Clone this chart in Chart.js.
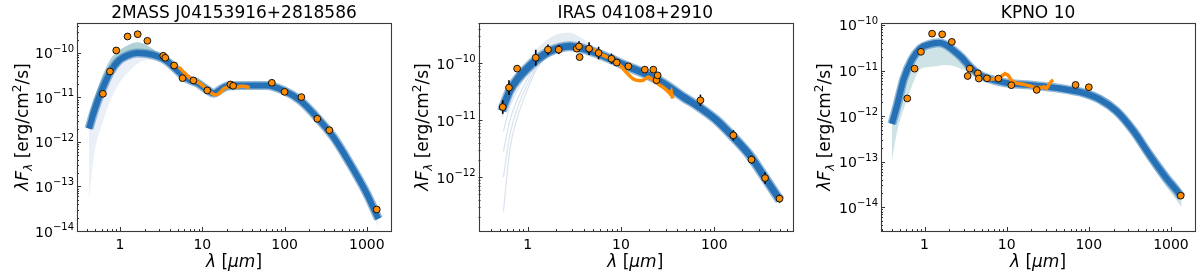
<!DOCTYPE html>
<html>
<head>
<meta charset="utf-8">
<script src="https://cdn.jsdelivr.net/npm/chart.js@4.4.1/dist/chart.umd.min.js"></script>
<style>
  html, body { margin:0; padding:0; background:#fff; }
  body { width:1200px; height:275px; position:relative; overflow:hidden; }
  canvas { position:absolute; top:0; }
</style>
</head>
<body>
<canvas id="c1" width="400" height="275" style="left:0px"></canvas>
<canvas id="c2" width="400" height="275" style="left:400px"></canvas>
<canvas id="c3" width="400" height="275" style="left:800px"></canvas>
<script>
// ---------------- Panel 1 : 2MASS J04153916+2818586 ----------------
const p1Title = "2MASS J04153916+2818586";
const p1PhotWave = [0.62, 0.755, 0.90, 1.235, 1.64, 2.15, 3.35, 3.55, 4.55, 5.75, 7.8, 11.5, 22.0, 23.7, 70, 100, 160, 250, 350, 1320];
const p1PhotFlux = [1.21e-11, 3.84e-11, 1.14e-10, 2.35e-10, 2.64e-10, 1.88e-10, 8.65e-11, 7.8e-11, 5.24e-11, 2.72e-11, 2.41e-11, 1.44e-11, 1.96e-11, 1.83e-11, 2.14e-11, 1.34e-11, 1.02e-11, 3.32e-12, 1.84e-12, 3.04e-14];
const p1PhotErr  = [0.06, 0.03, 0.02, 0.02, 0.02, 0.02, 0.02, 0.02, 0.02, 0.02, 0.03, 0.03, 0.03, 0.03, 0.04, 0.04, 0.04, 0.04, 0.04, 0.04];
const p1SpecWave = [5.2, 5.6, 6.0, 6.56, 7.0, 7.5, 7.9, 8.5, 9.5, 10.5, 11.5, 12.5, 13.8, 14.8, 15.9, 17.0, 18.2, 20.0, 22.0, 24.0, 26.5, 29.0, 31.9, 34.5, 37.6];
const p1SpecFlux = [4.80e-11, 4.17e-11, 3.63e-11, 3.12e-11, 2.75e-11, 2.51e-11, 2.49e-11, 2.29e-11, 2.03e-11, 1.74e-11, 1.49e-11, 1.32e-11, 1.17e-11, 1.15e-11, 1.21e-11, 1.38e-11, 1.57e-11, 1.70e-11, 1.79e-11, 1.74e-11, 1.71e-11, 1.78e-11, 1.79e-11, 1.74e-11, 1.65e-11];
const p1ModelWave = [0.42, 0.484, 0.612, 0.771, 0.97, 1.23, 1.62, 2.15, 2.84, 3.74, 4.96, 6.56, 8.67, 11.4, 13.8, 16.6, 19.9, 26.5, 38.4, 61, 97, 155, 246, 393, 625, 1000, 1380];
const p1ModelBest = [2.0e-12, 4.9e-12, 1.57e-11, 3.89e-11, 6.78e-11, 8.79e-11, 1.0e-10, 9.6e-11, 8.43e-11, 6.5e-11, 4.05e-11, 2.63e-11, 2.12e-11, 1.5e-11, 1.24e-11, 1.51e-11, 1.79e-11, 1.86e-11, 1.86e-11, 1.86e-11, 1.44e-11, 8.57e-12, 3.61e-12, 1.28e-12, 3.24e-13, 6.85e-14, 1.88e-14];
const p1ModelHi = [3.98e-12, 9.33e-12, 3.12e-11, 7.41e-11, 1.14e-10, 1.48e-10, 1.75e-10, 1.48e-10, 1.05e-10, 7.41e-11, 4.57e-11, 2.95e-11, 2.34e-11, 1.66e-11, 1.38e-11, 1.70e-11, 2.0e-11, 2.09e-11, 2.09e-11, 2.14e-11, 1.70e-11, 1.05e-11, 4.47e-12, 1.58e-12, 4.17e-13, 9.12e-14, 2.63e-14];
const p1ModelLo = [5.0e-14, 5.0e-13, 2.63e-12, 8.91e-12, 2.04e-11, 3.55e-11, 5.75e-11, 7.08e-11, 7.08e-11, 5.75e-11, 3.63e-11, 2.34e-11, 1.91e-11, 1.35e-11, 1.12e-11, 1.35e-11, 1.58e-11, 1.62e-11, 1.62e-11, 1.58e-11, 1.20e-11, 6.92e-12, 2.88e-12, 1.0e-12, 2.40e-13, 4.79e-14, 1.20e-14];
const p1XTicks = [1, 10, 100, 1000];
const p1XTickLabels = ["1", "10", "100", "1000"];
const p1YTicks = [1e-14, 1e-13, 1e-12, 1e-11, 1e-10];
const p1YTickLabels = ["10^\u221214", "10^\u221213", "10^\u221212", "10^\u221211", "10^\u221210"];

// ---------------- Panel 2 : IRAS 04108+2910 ----------------
const p2Title = "IRAS 04108+2910";
const p2PhotWave = [0.54, 0.63, 0.77, 1.22, 1.65, 2.15, 3.35, 3.55, 3.6, 4.55, 5.75, 7.9, 9.0, 12.0, 18.0, 22.2, 24.0, 24.7, 71, 160, 250, 350, 500];
const p2PhotFlux = [1.69e-11, 3.7e-11, 7.98e-11, 1.24e-10, 1.72e-10, 1.72e-10, 1.79e-10, 1.96e-10, 1.27e-10, 1.79e-10, 1.5e-10, 1.19e-10, 1.02e-10, 8.75e-11, 7.66e-11, 7.66e-11, 5.0e-11, 6.08e-11, 2.22e-11, 5.39e-12, 2.02e-12, 9.6e-13, 4.18e-13];
const p2PhotErr  = [0.12, 0.13, 0.03, 0.14, 0.09, 0.08, 0.05, 0.09, 0.03, 0.11, 0.11, 0.09, 0.03, 0.04, 0.03, 0.03, 0.03, 0.03, 0.10, 0.09, 0.07, 0.10, 0.07];
const p2SpecWave = [5.05, 5.6, 6.46, 7.2, 8.27, 9.2, 10.2, 11.2, 12.5, 13.5, 14.7, 16.0, 17.3, 18.5, 19.6, 21.0, 22.2, 24.0, 26.2, 28.5, 30.9, 32.0, 33.5, 34.5, 35.8];
const p2SpecFlux = [1.72e-10, 1.58e-10, 1.36e-10, 1.26e-10, 1.11e-10, 1.0e-10, 8.51e-11, 7.08e-11, 5.85e-11, 5.25e-11, 4.97e-11, 4.90e-11, 4.97e-11, 5.37e-11, 5.68e-11, 5.37e-11, 4.97e-11, 4.57e-11, 4.06e-11, 3.72e-11, 3.32e-11, 3.16e-11, 2.90e-11, 3.16e-11, 2.37e-11];
const p2ModelWave = [0.53, 0.548, 0.646, 0.793, 0.975, 1.25, 1.66, 2.22, 2.84, 3.63, 5.05, 7.62, 11.5, 17.3, 26.2, 46.5, 70.2, 106, 160, 240, 364, 506];
const p2ModelBest = [1.45e-11, 1.69e-11, 3.32e-11, 5.50e-11, 7.94e-11, 1.15e-10, 1.56e-10, 1.87e-10, 1.98e-10, 1.85e-10, 1.56e-10, 1.19e-10, 8.83e-11, 6.73e-11, 4.81e-11, 2.54e-11, 1.65e-11, 9.89e-12, 5.04e-12, 2.40e-12, 8.75e-13, 3.90e-13];
const p2ModelHi = [2.0e-11, 2.29e-11, 4.37e-11, 7.41e-11, 1.10e-10, 1.74e-10, 2.63e-10, 3.31e-10, 3.39e-10, 2.82e-10, 2.0e-10, 1.38e-10, 1.0e-10, 7.59e-11, 5.37e-11, 2.88e-11, 1.91e-11, 1.15e-11, 5.89e-12, 2.82e-12, 1.05e-12, 4.68e-13];
const p2ModelLo = [1.05e-11, 1.23e-11, 2.51e-11, 4.07e-11, 5.75e-11, 8.71e-11, 1.26e-10, 1.58e-10, 1.70e-10, 1.58e-10, 1.38e-10, 1.05e-10, 7.76e-11, 5.89e-11, 4.27e-11, 2.24e-11, 1.45e-11, 8.51e-12, 4.27e-12, 2.04e-12, 7.24e-13, 3.24e-13];
const p2FaintWave = [0.55, 0.646, 0.793, 0.975, 1.25, 1.66];
const p2Faint1 = [6.31e-12, 1.78e-11, 3.55e-11, 6.31e-11, 1.05e-10, 1.48e-10];
const p2Faint2 = [2.82e-12, 1.0e-11, 2.51e-11, 5.01e-11, 9.55e-11, 1.45e-10];
const p2Faint3 = [1.0e-12, 5.62e-12, 1.78e-11, 3.98e-11, 8.71e-11, 1.41e-10];
const p2Faint4 = [2.51e-13, 3.16e-12, 1.26e-11, 3.16e-11, 7.94e-11, 1.38e-10];
const p2XTicks = [1, 10, 100];
const p2XTickLabels = ["1", "10", "100"];
const p2YTicks = [1e-12, 1e-11, 1e-10];
const p2YTickLabels = ["10^\u221212", "10^\u221211", "10^\u221210"];

// ---------------- Panel 3 : KPNO 10 ----------------
const p3Title = "KPNO 10";
const p3PhotWave = [0.616, 0.756, 0.904, 1.235, 1.64, 2.15, 3.35, 3.55, 4.46, 4.58, 5.75, 7.94, 11.4, 23.2, 69, 100, 1315];
const p3PhotFlux = [2.44e-12, 1.1e-11, 2.58e-11, 6.46e-11, 6.24e-11, 4.26e-11, 7.59e-12, 1.1e-11, 8.69e-12, 6.67e-12, 6.76e-12, 6.67e-12, 4.77e-12, 3.76e-12, 4.83e-12, 4.3e-12, 1.79e-14];
const p3PhotErr  = [0.06, 0.03, 0.02, 0.02, 0.02, 0.02, 0.02, 0.02, 0.02, 0.02, 0.02, 0.03, 0.03, 0.04, 0.04, 0.05, 0.04];
const p3SpecWave = [5.21, 6.28, 7.58, 8.72, 9.55, 10.45, 11.5, 13.3, 15.9, 17.5, 19.3, 21.0, 23.2, 26.6, 28.5, 30.6, 32.9, 35.4, 36.9];
const p3SpecFlux = [7.36e-12, 6.43e-12, 6.67e-12, 7.59e-12, 8.55e-12, 7.85e-12, 5.90e-12, 5.26e-12, 5.01e-12, 4.79e-12, 4.59e-12, 4.37e-12, 4.24e-12, 4.24e-12, 4.37e-12, 4.04e-12, 5.01e-12, 5.90e-12, 6.21e-12];
const p3ModelWave = [0.40, 0.462, 0.556, 0.703, 0.886, 1.12, 1.48, 1.78, 2.25, 2.85, 3.59, 4.75, 6.89, 11.0, 19.3, 36.9, 55, 85.6, 136, 217, 347, 554, 885, 1205, 1350];
const p3ModelBest = [6.76e-13, 1.69e-12, 6.43e-12, 1.75e-11, 3.05e-11, 3.72e-11, 4.06e-11, 3.72e-11, 2.78e-11, 1.91e-11, 1.20e-11, 7.94e-12, 6.17e-12, 5.21e-12, 4.81e-12, 4.24e-12, 3.80e-12, 3.24e-12, 2.34e-12, 1.29e-12, 4.81e-13, 1.37e-13, 4.27e-14, 2.19e-14, 1.66e-14];
const p3ModelHi = [1.41e-12, 3.55e-12, 1.0e-11, 2.40e-11, 3.63e-11, 4.37e-11, 4.68e-11, 4.37e-11, 3.24e-11, 2.19e-11, 1.38e-11, 8.91e-12, 6.92e-12, 5.89e-12, 5.50e-12, 4.90e-12, 4.57e-12, 3.98e-12, 3.02e-12, 1.70e-12, 6.61e-13, 2.0e-13, 6.31e-14, 3.16e-14, 2.29e-14];
const p3ModelLo = [1.0e-13, 4.47e-13, 1.41e-12, 4.57e-12, 1.07e-11, 1.20e-11, 1.26e-11, 1.32e-11, 1.26e-11, 1.07e-11, 9.12e-12, 7.08e-12, 5.50e-12, 4.57e-12, 4.17e-12, 3.63e-12, 3.16e-12, 2.63e-12, 1.82e-12, 9.55e-13, 3.47e-13, 9.55e-14, 2.75e-14, 1.32e-14, 1.0e-14];
const p3XTicks = [1, 10, 100, 1000];
const p3XTickLabels = ["1", "10", "100", "1000"];
const p3YTicks = [1e-14, 1e-13, 1e-12, 1e-11, 1e-10];
const p3YTickLabels = ["10^\u221214", "10^\u221213", "10^\u221212", "10^\u221211", "10^\u221210"];

// ---------------- drawing ----------------
const FAM = "'DejaVu Sans', sans-serif";
Chart.defaults.font.family = FAM;
const ORANGE = '#ff8c00';
const BLUE = '#2671b5';

function zip(xs, ys) { return xs.map((x, i) => ({ x: x, y: ys[i] })); }

function fontOf(s) { return (s.it ? 'italic ' : '') + s.size + 'px ' + FAM; }
function measureRich(ctx, segs) {
  let w = 0;
  segs.forEach(s => { ctx.font = fontOf(s); s.w = ctx.measureText(s.t).width; w += s.w; });
  return w;
}
function drawRich(ctx, segs, x, y, align) {
  const w = measureRich(ctx, segs);
  let cx = align === 'right' ? x - w : x - w / 2;
  ctx.textAlign = 'left'; ctx.textBaseline = 'alphabetic';
  segs.forEach(s => { ctx.font = fontOf(s); ctx.fillText(s.t, cx, y + (s.dy || 0)); cx += s.w; });
}
// "10^-12" -> base + raised exponent
function powSegs(label) {
  const parts = label.split('^');
  return [{ t: parts[0], size: 14 }, { t: parts[1], size: 10, dy: -6.5 }];
}
const xLabelSegs = [
  { t: '\u03BB', size: 17, it: true }, { t: ' [', size: 17 }, { t: '\u03BCm', size: 17, it: true }, { t: ']', size: 17 }
];
const yLabelSegs = [
  { t: '\u03BBF', size: 17, it: true }, { t: '\u03BB', size: 12, it: true, dy: 4 },
  { t: ' [erg/cm', size: 17 }, { t: '2', size: 12, dy: -7 }, { t: '/s]', size: 17 }
];

const errorBars = {
  id: 'errorBars',
  beforeDatasetDraw(chart, args) {
    const ds = chart.data.datasets[args.index];
    if (!ds.errDex) return;
    const ctx = chart.ctx, xs = chart.scales.x, ys = chart.scales.y;
    ctx.save();
    ctx.strokeStyle = '#000'; ctx.lineWidth = 1.6;
    ds.data.forEach((p, i) => {
      const e = ds.errDex[i];
      if (!e) return;
      const f = Math.pow(10, e);
      const px = xs.getPixelForValue(p.x);
      ctx.beginPath();
      ctx.moveTo(px, ys.getPixelForValue(p.y * f));
      ctx.lineTo(px, ys.getPixelForValue(p.y / f));
      ctx.stroke();
    });
    ctx.restore();
  }
};

const decorations = {
  id: 'decorations',
  afterDraw(chart) {
    const o = chart.options.plugins.decorations;
    const ctx = chart.ctx, a = chart.chartArea, xs = chart.scales.x, ys = chart.scales.y;
    ctx.save();
    // inward ticks
    ctx.strokeStyle = '#333'; ctx.lineWidth = 1;
    ctx.beginPath();
    for (let e = Math.floor(Math.log10(xs.min)); e <= Math.ceil(Math.log10(xs.max)); e++) {
      for (let m = 1; m < 10; m++) {
        const v = m * Math.pow(10, e);
        if (v < xs.min || v > xs.max) continue;
        const px = Math.round(xs.getPixelForValue(v)) + 0.5;
        const len = m === 1 ? 4 : 2;
        ctx.moveTo(px, a.bottom); ctx.lineTo(px, a.bottom - len);
      }
    }
    for (let e = Math.floor(Math.log10(ys.min)); e <= Math.ceil(Math.log10(ys.max)); e++) {
      for (let m = 1; m < 10; m++) {
        const v = m * Math.pow(10, e);
        if (v < ys.min || v > ys.max) continue;
        const py = Math.round(ys.getPixelForValue(v)) + 0.5;
        const len = m === 1 ? 4 : 2;
        ctx.moveTo(a.left, py); ctx.lineTo(a.left + len, py);
      }
    }
    ctx.stroke();
    // frame
    ctx.strokeStyle = '#3a3a3a'; ctx.lineWidth = 1.1;
    ctx.strokeRect(Math.round(a.left) + 0.5, Math.round(a.top) + 0.5, Math.round(a.right - a.left), Math.round(a.bottom - a.top));
    ctx.fillStyle = '#000';
    // y tick labels (power-of-ten text placed by the y scale)
    o.yTicks.forEach((v, i) => {
      const py = ys.getPixelForValue(v);
      drawRich(ctx, powSegs(o.yTickLabels[i]), a.left - 3, py + 5.5, 'right');
    });
    // title
    ctx.font = '17px ' + FAM; ctx.textAlign = 'center'; ctx.textBaseline = 'alphabetic';
    ctx.fillText(o.title, (a.left + a.right) / 2, 17.5);
    // x label
    drawRich(ctx, xLabelSegs, (a.left + a.right) / 2, 267);
    // y label
    ctx.translate(o.yLabelX, (a.top + a.bottom) / 2);
    ctx.rotate(-Math.PI / 2);
    drawRich(ctx, yLabelSegs, 0, 0);
    ctx.restore();
  }
};

function makePanel(id, p) {
  const datasets = [
    { label: 'photometry', data: zip(p.photWave, p.photFlux), errDex: p.photErr, showLine: false,
      pointRadius: 3.4, pointBackgroundColor: ORANGE, pointBorderColor: '#111', pointBorderWidth: 1, order: 0 },
    { label: 'spectrum', data: zip(p.specWave, p.specFlux), showLine: true, borderColor: ORANGE,
      borderWidth: 3.5, pointRadius: 0, order: 1 },
    { label: 'best', data: zip(p.modelWave, p.modelBest), showLine: true, borderColor: BLUE,
      borderWidth: p.bandWidth, pointRadius: 0, cubicInterpolationMode: 'monotone', order: 2 },
    { label: 'halo', data: zip(p.modelWave, p.modelBest), showLine: true, borderColor: 'rgba(38,113,181,0.5)',
      borderWidth: p.bandWidth + 3, pointRadius: 0, cubicInterpolationMode: 'monotone', order: 3 },
    { label: 'upper', data: zip(p.modelWave, p.modelHi), showLine: true, borderColor: 'rgba(0,0,0,0)', borderWidth: 1,
      pointRadius: 0, cubicInterpolationMode: 'monotone', fill: 2, backgroundColor: p.hiColor, order: 4 },
    { label: 'lower', data: zip(p.modelWave, p.modelLo), showLine: true, borderColor: 'rgba(0,0,0,0)', borderWidth: 1,
      pointRadius: 0, cubicInterpolationMode: 'monotone', fill: 2, backgroundColor: p.loColor, order: 5 }
  ];
  (p.faint || []).forEach((f, k) => datasets.push({
    label: 'faint' + k, data: zip(p.faintWave, f), showLine: true, borderColor: 'rgba(130,160,200,0.3)',
    borderWidth: 1.2, pointRadius: 0, cubicInterpolationMode: 'monotone', order: 6 + k
  }));
  return new Chart(document.getElementById(id), {
    type: 'scatter',
    data: { datasets },
    options: {
      responsive: false, animation: false, devicePixelRatio: 1,
      layout: { padding: { left: 0, right: p.padRight, top: p.padTop, bottom: 0 } },
      plugins: { legend: { display: false }, tooltip: { enabled: false },
                 decorations: { title: p.title, yLabelX: p.yLabelX, yTicks: p.yTicks, yTickLabels: p.yTickLabels } },
      scales: {
        x: { type: 'logarithmic', min: p.xMin, max: p.xMax,
             grid: { display: false, drawTicks: false }, border: { display: false },
             afterBuildTicks: s => { s.ticks = p.xTicks.map(v => ({ value: v })); },
             afterFit: s => { s.height = p.xAxisH; },
             ticks: { autoSkip: false, maxRotation: 0, padding: 6, color: '#000', font: { size: 14 },
                      callback: (v, i) => p.xTickLabels[i] } },
        y: { type: 'logarithmic', min: p.yMin, max: p.yMax,
             grid: { display: false, drawTicks: false }, border: { display: false },
             afterBuildTicks: s => { s.ticks = p.yTicks.map(v => ({ value: v })); },
             afterFit: s => { s.width = p.yAxisW; },
             ticks: { display: false } }
      }
    },
    plugins: [errorBars, decorations]
  });
}

makePanel('c1', {
  title: p1Title, photWave: p1PhotWave, photFlux: p1PhotFlux, photErr: p1PhotErr,
  specWave: p1SpecWave, specFlux: p1SpecFlux, modelWave: p1ModelWave, modelBest: p1ModelBest,
  modelHi: p1ModelHi, modelLo: p1ModelLo, hiColor: 'rgba(80,155,165,0.45)', loColor: 'rgba(90,120,190,0.12)',
  bandWidth: 6, xTicks: p1XTicks, xTickLabels: p1XTickLabels, yTicks: p1YTicks, yTickLabels: p1YTickLabels,
  xMin: 0.305, xMax: 1965, yMin: 1e-14, yMax: 4.72e-10,
  padRight: 9, padTop: 23, xAxisH: 44, yAxisW: 77, yLabelX: 28
});
makePanel('c2', {
  title: p2Title, photWave: p2PhotWave, photFlux: p2PhotFlux, photErr: p2PhotErr,
  specWave: p2SpecWave, specFlux: p2SpecFlux, modelWave: p2ModelWave, modelBest: p2ModelBest,
  modelHi: p2ModelHi, modelLo: p2ModelLo, hiColor: 'rgba(130,170,205,0.22)', loColor: 'rgba(60,130,190,0.22)',
  bandWidth: 7, faintWave: p2FaintWave, faint: [p2Faint1, p2Faint2, p2Faint3, p2Faint4],
  xTicks: p2XTicks, xTickLabels: p2XTickLabels, yTicks: p2YTicks, yTickLabels: p2YTickLabels,
  xMin: 0.297, xMax: 680, yMin: 1.13e-13, yMax: 5.04e-10,
  padRight: 8, padTop: 23, xAxisH: 44, yAxisW: 78.5, yLabelX: 28
});
makePanel('c3', {
  title: p3Title, photWave: p3PhotWave, photFlux: p3PhotFlux, photErr: p3PhotErr,
  specWave: p3SpecWave, specFlux: p3SpecFlux, modelWave: p3ModelWave, modelBest: p3ModelBest,
  modelHi: p3ModelHi, modelLo: p3ModelLo, hiColor: 'rgba(60,120,190,0.2)', loColor: 'rgba(80,155,165,0.28)',
  bandWidth: 6, xTicks: p3XTicks, xTickLabels: p3XTickLabels, yTicks: p3YTicks, yTickLabels: p3YTickLabels,
  xMin: 0.295, xMax: 1963, yMin: 3.3e-15, yMax: 1.106e-10,
  padRight: 5, padTop: 23, xAxisH: 44, yAxisW: 81, yLabelX: 29.5
});
</script>
</body>
</html>
